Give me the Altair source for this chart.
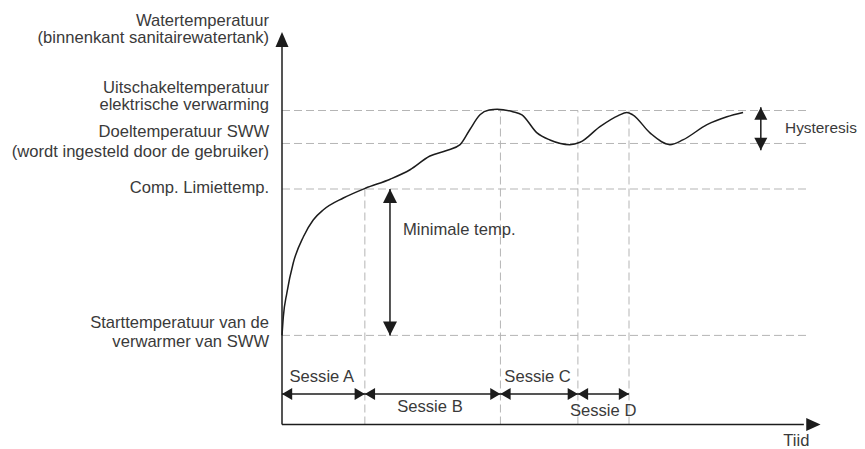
import altair as alt
import pandas as pd

# ---------------- data (time units on x, temperature units on y) ----------------
level_values = [80.0, 71.6, 60.0, 22.7]          # Uitschakel, Doel, Comp. limiet, Start
level_end = 97.8

session_bounds = [0.0, 15.4, 40.6, 55.0, 64.5]
session_tops = [60.0, 80.0, 80.0, 80.0]
session_names = ["Sessie A", "Sessie B", "Sessie C", "Sessie D"]
session_label_t = [7.4, 27.5, 47.5, 59.7]
session_label_T = [10.9, 3.3, 10.9, 2.2]
session_arrow_T = 7.8

curve_t = [0.0, 0.25, 0.9, 2.1, 4.0, 5.8, 7.7, 11.4, 15.5, 20.1, 23.8, 27.5, 30.6,
           33.1, 34.9, 36.8, 38.5, 40.0, 42.9, 44.6, 47.4, 49.8, 53.5, 55.4, 59.1,
           62.5, 64.1, 65.2, 68.4, 72.1, 74.5, 79.0, 82.7, 85.7]
curve_T = [22.7, 27.5, 33.5, 41.2, 47.9, 52.1, 54.7, 57.7, 60.2, 62.5, 64.9, 68.4, 69.8,
           71.3, 75.1, 78.9, 80.1, 80.3, 79.7, 78.9, 74.3, 72.5, 71.3, 71.9, 75.9,
           78.7, 79.5, 78.9, 74.3, 71.3, 72.5, 76.4, 78.4, 79.5]

min_arrow_t = 20.07
min_arrow_T = [22.7, 60.0]
hyst_arrow_t = 89.0
hyst_arrow_T = [69.9, 80.8]

left_labels = ["Watertemperatuur", "(binnenkant sanitairewatertank)",
               "Uitschakeltemperatuur", "elektrische verwarming",
               "Doeltemperatuur SWW", "(wordt ingesteld door de gebruiker)",
               "Comp. Limiettemp.", "Starttemperatuur van de", "verwarmer van SWW"]
left_labels_T = [101.5, 97.2, 84.5, 80.1, 73.2, 68.2, 59.0, 24.6, 19.7]
left_labels_t = -2.4

other_labels = ["Minimale temp."]
other_labels_t = [22.5]
other_labels_T = [48.3]

hyst_label = "Hysteresis"
hyst_label_t = 93.5
hyst_label_T = 74.3

x_title = "Tiid"
x_title_t = 95.6
x_title_T = -5.5

# ---------------- styling ----------------
FONT = "Liberation Sans"
FS = 16.6
TXT = "#3a3a3a"
INK = "#1c1c1c"
GRID = "#b5b5b5"

xs = alt.Scale(domain=[0, 100], range=[274, 812], zero=False, nice=False)
ys = alt.Scale(domain=[0, 100], range=[416.5, 24], zero=False, nice=False)


def X(f):
    return alt.X(f, type="quantitative", scale=xs, axis=None)


def Y(f):
    return alt.Y(f, type="quantitative", scale=ys, axis=None)


def seg_layer(df, **mark):
    return alt.Chart(df).mark_rule(**mark).encode(
        x=X("x0"), x2=alt.X2("x1"), y=Y("y0"), y2=alt.Y2("y1"))


# dashed reference lines
hdash = pd.DataFrame({"x0": [0.0] * len(level_values), "x1": [level_end] * len(level_values),
                      "y0": level_values, "y1": level_values})
vdash = pd.DataFrame({"x0": session_bounds[1:], "x1": session_bounds[1:],
                      "y0": [0.0] * 4, "y1": session_tops})

# axes and arrow shafts
shafts = pd.DataFrame({
    "x0": [0.0, 0.0, 0.0, min_arrow_t, hyst_arrow_t],
    "x1": [0.0, 97.0, session_bounds[-1], min_arrow_t, hyst_arrow_t],
    "y0": [0.0, 0.0, session_arrow_T, min_arrow_T[0], hyst_arrow_T[0]],
    "y1": [96.5, 0.0, session_arrow_T, min_arrow_T[1], hyst_arrow_T[1]],
})

UP = "M0,0L-1,2.3L1,2.3Z"
RIGHT = "M0,0L-2.2,-1L-2.2,1Z"
UP2 = "M0,0L-1,2L1,2Z"
DOWN2 = "M0,0L-1,-2L1,-2Z"
UPH = "M0,0L-1,1.9L1,1.9Z"
DOWNH = "M0,0L-1,-1.9L1,-1.9Z"
SR = "M0,0L-1.7,-1L-1.7,1Z"
SL = "M0,0L1.7,-1L1.7,1Z"

heads_t, heads_T, heads_shape, heads_size = [], [], [], []


def head(t, T, shape, size):
    heads_t.append(t); heads_T.append(T); heads_shape.append(shape); heads_size.append(size)


head(0.0, 100.0, UP, 169)
head(100.1, 0.0, RIGHT, 169)
head(min_arrow_t, min_arrow_T[1], UP2, 196)
head(min_arrow_t, min_arrow_T[0], DOWN2, 196)
head(hyst_arrow_t, hyst_arrow_T[1], UPH, 169)
head(hyst_arrow_t, hyst_arrow_T[0], DOWNH, 169)
for i, b in enumerate(session_bounds):
    if i < len(session_bounds) - 1:
        head(b, session_arrow_T, SL, 144)
    if i > 0:
        head(b, session_arrow_T, SR, 144)

heads = pd.DataFrame({"t": heads_t, "T": heads_T, "shape": heads_shape, "size": heads_size})

curve = pd.DataFrame({"t": curve_t, "T": curve_T})

layers = [
    seg_layer(hdash, color=GRID, strokeWidth=1, strokeDash=[8, 4]),
    seg_layer(vdash, color=GRID, strokeWidth=1, strokeDash=[8, 4]),
    alt.Chart(curve).mark_line(color=INK, strokeWidth=1.5, interpolate="monotone").encode(
        x=X("t"), y=Y("T")),
    seg_layer(shafts, color=INK, strokeWidth=1.5),
    alt.Chart(heads).mark_point(filled=True, color=INK, opacity=1, strokeWidth=0).encode(
        x=X("t"), y=Y("T"),
        shape=alt.Shape("shape:N", scale=None),
        size=alt.Size("size:Q", scale=None)),
    alt.Chart(pd.DataFrame({"label": left_labels, "T": left_labels_T,
                            "t": [left_labels_t] * len(left_labels)}))
    .mark_text(align="right", baseline="alphabetic", font=FONT, fontSize=FS, color=TXT)
    .encode(x=X("t"), y=Y("T"), text="label:N"),
    alt.Chart(pd.DataFrame({"label": other_labels, "t": other_labels_t, "T": other_labels_T}))
    .mark_text(align="left", baseline="alphabetic", font=FONT, fontSize=FS, color=TXT)
    .encode(x=X("t"), y=Y("T"), text="label:N"),
    alt.Chart(pd.DataFrame({"label": [hyst_label], "t": [hyst_label_t], "T": [hyst_label_T]}))
    .mark_text(align="left", baseline="alphabetic", font=FONT, fontSize=15.4, color=TXT)
    .encode(x=X("t"), y=Y("T"), text="label:N"),
    alt.Chart(pd.DataFrame({"label": session_names + [x_title],
                            "t": session_label_t + [x_title_t],
                            "T": session_label_T + [x_title_T]}))
    .mark_text(align="center", baseline="alphabetic", font=FONT, fontSize=FS, color=TXT)
    .encode(x=X("t"), y=Y("T"), text="label:N"),
]

chart = alt.layer(*layers).properties(
    width=849, height=441, padding=0,
    autosize=alt.AutoSizeParams(type="none"),
    background="white",
).configure_view(stroke=None)

chart.save("out.html", embed_options={"renderer": "svg", "actions": False})
